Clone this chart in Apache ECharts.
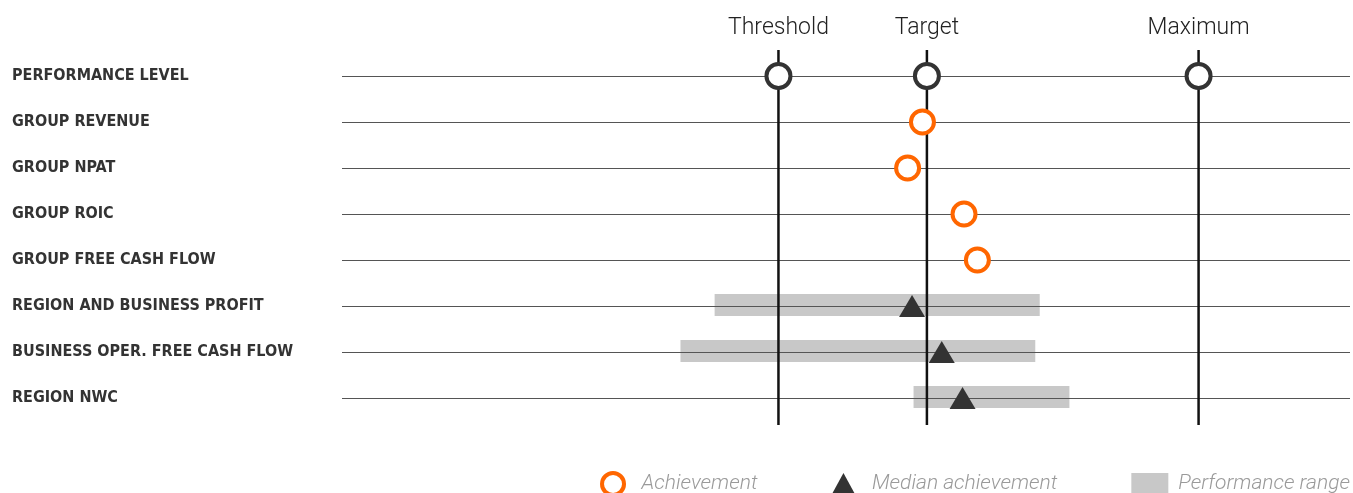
<!DOCTYPE html>
<html>
<head>
<meta charset="utf-8">
<title>Performance outcomes</title>
<script src="https://cdn.jsdelivr.net/npm/echarts@6/dist/echarts.min.js"></script>
<style>
  html, body { margin: 0; padding: 0; background: #ffffff; }
  #chart { width: 1353px; height: 493px; }
</style>
</head>
<body>
<div id="chart"></div>
<script>
// Rows of the outcome table, top to bottom
const categories = [
  'PERFORMANCE LEVEL',
  'GROUP REVENUE',
  'GROUP NPAT',
  'GROUP ROIC',
  'GROUP FREE CASH FLOW',
  'REGION AND BUSINESS PROFIT',
  'BUSINESS OPER. FREE CASH FLOW',
  'REGION NWC'
];

// Performance levels (% of target)
const levelNames = ['Threshold', 'Target', 'Maximum'];
const levelValues = [90, 100, 118.3];

// Achievement against each group measure (% of target)
const achievementRows = ['GROUP REVENUE', 'GROUP NPAT', 'GROUP ROIC', 'GROUP FREE CASH FLOW'];
const achievementValues = [99.7, 98.7, 102.5, 103.4];

// Median achievement and performance range for the region / business measures
const medianRows = ['REGION AND BUSINESS PROFIT', 'BUSINESS OPER. FREE CASH FLOW', 'REGION NWC'];
const medianValues = [99.0, 101.0, 102.4];
const rangeLow = [85.7, 83.4, 99.1];
const rangeHigh = [107.6, 107.3, 109.6];

const ORANGE = '#ff6600';
const DARK = '#333333';
const RANGE_GREY = '#c8c8c8';
const X_MIN = 60.6, X_MAX = 128.5;

const chart = echarts.init(document.getElementById('chart'), null, { renderer: 'canvas' });

chart.setOption({
  backgroundColor: '#ffffff',
  animation: false,
  grid: [
    { left: 342, right: 3, top: 76, bottom: 95 },
    { left: 342, right: 3, top: 50, bottom: 68 }
  ],
  xAxis: [
    { type: 'value', gridIndex: 0, min: X_MIN, max: X_MAX, show: false },
    { type: 'value', gridIndex: 1, min: X_MIN, max: X_MAX, show: false }
  ],
  yAxis: [
    {
      type: 'category',
      gridIndex: 0,
      data: categories,
      inverse: true,
      boundaryGap: false,
      z: 3,
      axisLine: { show: false },
      axisTick: { show: false },
      splitLine: { show: true, lineStyle: { color: '#555555', width: 1 } },
      axisLabel: {
        align: 'left',
        margin: 330,
        padding: [7, 0, 0, 0],
        color: DARK,
        fontSize: 16,
        fontWeight: 'bold',
        fontFamily: '"Liberation Sans Narrow", "DejaVu Sans Condensed", Roboto, sans-serif'
      }
    },
    { type: 'value', gridIndex: 1, min: 0, max: 1, show: false }
  ],
  legend: {
    right: 3,
    top: 471,
    padding: 0,
    itemWidth: 37,
    itemHeight: 22,
    itemGap: 74,
    selectedMode: false,
    textStyle: {
      color: '#9a9a9a', fontSize: 21, fontStyle: 'italic', fontWeight: 300,
      fontFamily: 'Roboto, sans-serif', padding: [0, 0, 0, 5]
    },
    data: [
      { name: 'Achievement', icon: 'circle', itemStyle: { color: '#ffffff', borderColor: ORANGE, borderWidth: 4 } },
      { name: 'Median achievement', icon: 'path://M12 0 L24 22 L0 22 Z', itemStyle: { color: DARK } },
      { name: 'Performance range', icon: 'rect', itemStyle: { color: RANGE_GREY } }
    ]
  },
  series: [
    {
      // grey bands spanning low to high outcome
      name: 'Performance range',
      type: 'custom',
      xAxisIndex: 0,
      yAxisIndex: 0,
      z: 2,
      encode: { x: [0, 1], y: 2 },
      data: medianRows.map((r, i) => [rangeLow[i], rangeHigh[i], categories.indexOf(r)]),
      renderItem: function (params, api) {
        const start = api.coord([api.value(0), api.value(2)]);
        const end = api.coord([api.value(1), api.value(2)]);
        const h = 22;
        return {
          type: 'rect',
          shape: { x: start[0], y: start[1] - h / 2 - 1, width: end[0] - start[0], height: h },
          style: { fill: RANGE_GREY }
        };
      }
    },
    {
      // threshold / target / maximum rules with captions
      name: 'levels',
      type: 'custom',
      xAxisIndex: 1,
      yAxisIndex: 1,
      z: 4,
      encode: { x: 0, y: 1 },
      data: levelValues.map(v => [v, 0]),
      renderItem: function (params, api) {
        const v = api.value(0);
        const top = api.coord([v, 1]);
        const bottom = api.coord([v, 0]);
        return {
          type: 'group',
          children: [
            {
              type: 'line',
              shape: { x1: top[0], y1: top[1], x2: bottom[0], y2: bottom[1] },
              style: { stroke: '#111111', lineWidth: 2.5 }
            },
            {
              type: 'text',
              style: {
                text: levelNames[params.dataIndex],
                x: top[0],
                y: top[1] - 22,
                align: 'center',
                verticalAlign: 'middle',
                fill: '#222222',
                fontSize: 23,
                fontWeight: 300,
                fontFamily: 'Roboto, sans-serif'
              }
            }
          ]
        };
      }
    },
    {
      name: 'Performance level',
      type: 'scatter',
      xAxisIndex: 0,
      yAxisIndex: 0,
      z: 5,
      symbol: 'circle',
      symbolSize: 24,
      itemStyle: { color: '#ffffff', borderColor: DARK, borderWidth: 4, opacity: 1 },
      data: levelValues.map(v => [v, 'PERFORMANCE LEVEL'])
    },
    {
      name: 'Achievement',
      type: 'scatter',
      xAxisIndex: 0,
      yAxisIndex: 0,
      z: 5,
      symbol: 'circle',
      symbolSize: 23,
      itemStyle: { color: '#ffffff', borderColor: ORANGE, borderWidth: 4, opacity: 1 },
      data: achievementRows.map((r, i) => [achievementValues[i], r])
    },
    {
      name: 'Median achievement',
      type: 'scatter',
      xAxisIndex: 0,
      yAxisIndex: 0,
      z: 5,
      symbol: 'triangle',
      symbolSize: [26, 22],
      itemStyle: { color: DARK, opacity: 1 },
      data: medianRows.map((r, i) => [medianValues[i], r])
    }
  ]
});
</script>
</body>
</html>
